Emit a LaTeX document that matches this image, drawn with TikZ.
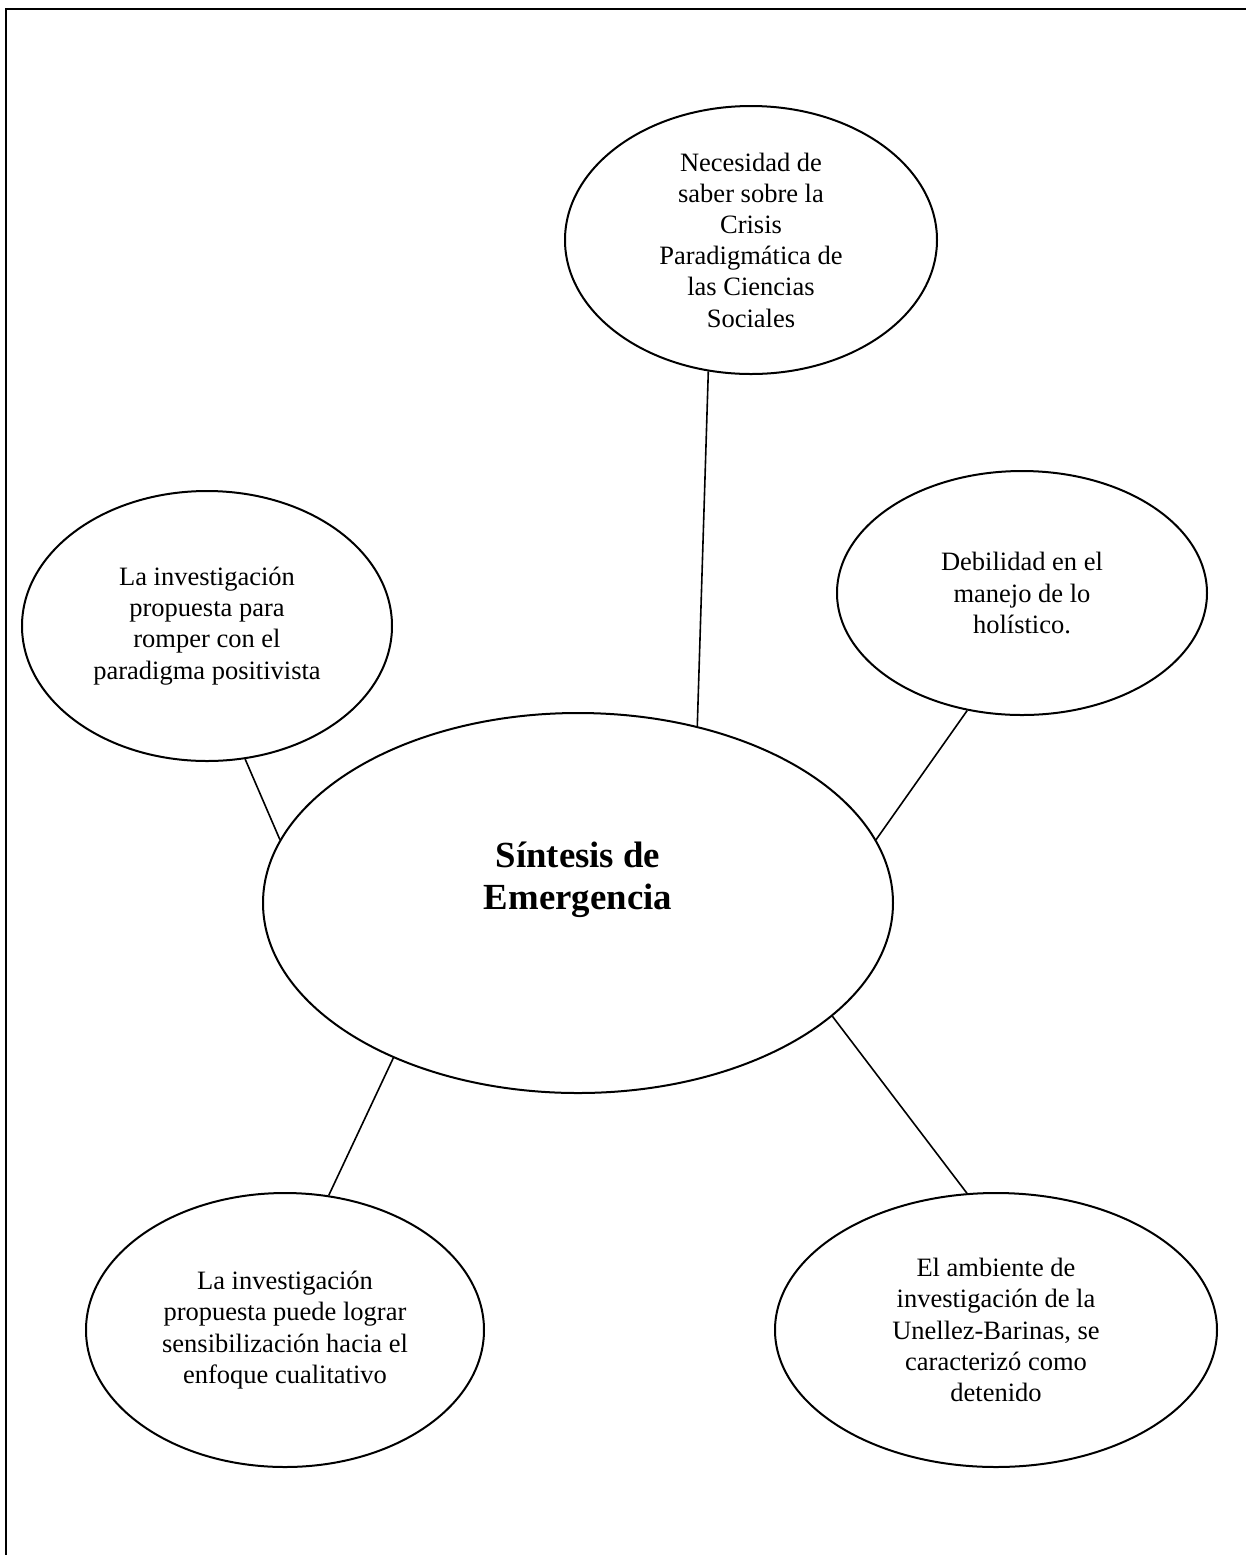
\documentclass[tikz,border=0pt]{standalone}
\usepackage{fontspec}
\setmainfont{Liberation Serif}
\usetikzlibrary{shapes.geometric}
\begin{document}
\begin{tikzpicture}[x=0.5pt,y=-0.5pt,
  bubble/.style={draw, ellipse, line width=1pt, inner sep=0pt, align=center,
    font=\fontsize{13.25pt}{15.6pt}\selectfont},
  link/.style={line width=0.8pt}]
\useasboundingbox (0,0) rectangle (1246,1555);
\draw[line width=1.2pt] (1246,9) -- (6,9) -- (6,1555);
\node[bubble, minimum width=186pt, minimum height=134pt] (nT) at (751,240)
  {Necesidad de\\saber sobre la\\Crisis\\Paradigmática de\\las Ciencias\\Sociales};
\node[bubble, minimum width=185pt, minimum height=135pt] (nL) at (207,626)
  {La investigación\\propuesta para\\romper con el\\paradigma positivista};
\node[bubble, minimum width=185pt, minimum height=122pt] (nR) at (1022,593)
  {Debilidad en el\\manejo de lo\\holístico.};
\node[bubble, minimum width=315pt, minimum height=190pt] (nC) at (578,903) {};
\node[align=center, inner sep=0pt, font=\fontsize{18.4pt}{21pt}\selectfont\bfseries] (nCt) at (578,880)
  {Síntesis de\\Emergencia};
\node[bubble, minimum width=199pt, minimum height=137pt] (nBL) at (285,1330)
  {La investigación\\propuesta puede lograr\\sensibilización hacia el\\enfoque cualitativo};
\node[bubble, minimum width=221pt, minimum height=137pt] (nBR) at (996,1330)
  {El ambiente de\\investigación de la\\Unellez-Barinas, se\\caracterizó como\\detenido};
\draw[link] (nT.252.6) -- (nC.56.2);
\draw[link] (nL.286.5) -- (nC.168.5);
\draw[link] (nR.245.4) -- (nC.12.1);
\draw[link] (nC.220.9) -- (nBL.72.96);
\draw[link] (nC.336.3) -- (nBR.102);
\end{tikzpicture}
\end{document}
